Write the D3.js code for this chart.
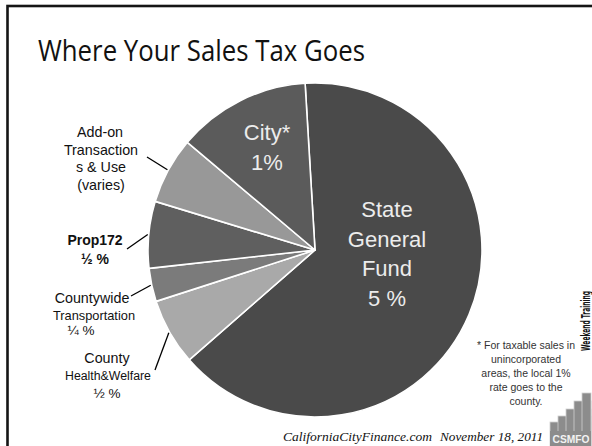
<!DOCTYPE html>
<html>
<head>
<meta charset="utf-8">
<script src="https://cdn.jsdelivr.net/npm/d3@7"></script>
<style>
  html, body { margin: 0; padding: 0; background: #fff; }
  svg { display: block; }
</style>
</head>
<body>
<svg id="chart" width="592" height="446"></svg>
<script>
// ---- Data ----
const categories = ["State General Fund", "County Health&Welfare", "Countywide Transportation", "Prop172", "Add-on Transactions & Use", "City*"];
const values = [5, 0.5, 0.25, 0.5, 0.5, 1];
const sliceColors = ["#4a4a4a", "#a9a9a9", "#7b7b7b", "#5f5f5f", "#989898", "#5b5b5b"];
const titleText = "Where Your Sales Tax Goes";
const footnoteLines = ["* For taxable sales in", "unincorporated", "areas, the local 1%", "rate goes to the", "county."];

const svg = d3.select("#chart");
const W = 592, H = 446;

// slide frame
svg.append("rect").attr("x", 7.5).attr("y", 6).attr("width", W + 20).attr("height", H + 20)
  .attr("fill", "none").attr("stroke", "#151515").attr("stroke-width", 2.6);

// title
svg.append("text").attr("x", 38).attr("y", 61)
  .attr("font-family", "Open Sans, sans-serif").attr("font-size", 29)
  .attr("textLength", 327).attr("lengthAdjust", "spacingAndGlyphs")
  .attr("fill", "#111").text(titleText);

// pie
const cx = 315, cy = 250, R = 167;
const deg = Math.PI / 180;
const start = -3.4 * deg;
const pie = d3.pie().sort(null).value(d => d).startAngle(start).endAngle(start + 2 * Math.PI);
const arcs = pie(values);
const arc = d3.arc().innerRadius(0).outerRadius(R);
const color = d3.scaleOrdinal().domain(categories).range(sliceColors);

const g = svg.append("g").attr("transform", `translate(${cx},${cy})`);
g.selectAll("path.slice").data(arcs).join("path")
  .attr("class", "slice")
  .attr("d", arc)
  .attr("fill", (d, i) => color(categories[i]))
  .attr("stroke", "#fff").attr("stroke-width", 1.6).attr("stroke-linejoin", "round");

// inside labels
const inside = [
  { idx: 0, lines: ["State", "General", "Fund", "5 %"], dx: 72, dy0: -33, step: 29.5, size: 22 },
  { idx: 5, lines: ["City*", "1%"], dx: -48, dy0: -110, step: 30, size: 22 }
];
inside.forEach(L => {
  L.lines.forEach((t, j) => {
    g.append("text").attr("x", L.dx).attr("y", L.dy0 + j * L.step)
      .attr("text-anchor", "middle")
      .attr("font-family", "Liberation Sans, Arial, sans-serif")
      .attr("font-size", L.size).attr("fill", "#ececec").text(t);
  });
});

// outside labels with leader lines
const pt = (a, r) => [Math.sin(a) * r, -Math.cos(a) * r];
const outside = [
  { idx: 4, end: [-168, -93], lines: [
      { t: "Add-on", x: 100, y: 137, s: 14.3 }, { t: "Transaction", x: 101, y: 154.5, s: 14.3 },
      { t: "s & Use", x: 101, y: 172, s: 14.3 }, { t: "(varies)", x: 101, y: 190, s: 14.3 }] },
  { idx: 3, end: [-188, -1], lines: [
      { t: "Prop172", x: 95, y: 245, s: 14, b: true }, { t: "½ %", x: 95, y: 264, s: 14, b: true }] },
  { idx: 2, end: [-184, 46], lines: [
      { t: "Countywide", x: 92, y: 303, s: 14.3 }, { t: "Transportation", x: 94, y: 320, s: 12.8 },
      { t: "¼ %", x: 81, y: 335, s: 13.5 }] },
  { idx: 1, end: [-160, 120], lines: [
      { t: "County", x: 107, y: 363, s: 14.3 }, { t: "Health&Welfare", x: 108, y: 380, s: 12.3 },
      { t: "½ %", x: 107, y: 398, s: 13.5 }] }
];
outside.forEach(L => {
  const a = (arcs[L.idx].startAngle + arcs[L.idx].endAngle) / 2;
  const p = pt(a, R + 1);
  g.append("line").attr("x1", p[0]).attr("y1", p[1]).attr("x2", L.end[0]).attr("y2", L.end[1])
    .attr("stroke", "#000").attr("stroke-width", 1.3);
  L.lines.forEach(l => {
    svg.append("text").attr("x", l.x).attr("y", l.y).attr("text-anchor", "middle")
      .attr("font-family", "Liberation Sans, Arial, sans-serif")
      .attr("font-size", l.s).attr("font-weight", l.b ? "bold" : "normal")
      .attr("fill", "#111").text(l.t);
  });
});

// footnote
footnoteLines.forEach((t, j) => {
  svg.append("text").attr("x", 526).attr("y", 349 + j * 14).attr("text-anchor", "middle")
    .attr("font-family", "Liberation Sans Narrow, Arial Narrow, sans-serif")
    .attr("font-size", 10.5).attr("fill", "#333").text(t);
});

// Weekend Training (rotated)
svg.append("text").attr("transform", "translate(590,321) rotate(-90)")
  .attr("text-anchor", "middle")
  .attr("font-family", "DejaVu Sans Condensed, DejaVu Sans, sans-serif")
  .attr("font-weight", "bold").attr("font-size", 11.5)
  .attr("textLength", 60).attr("lengthAdjust", "spacingAndGlyphs")
  .attr("fill", "#111").text("Weekend Training");

// footer
svg.append("text").attr("x", 283).attr("y", 441)
  .attr("font-family", "Liberation Serif, serif").attr("font-style", "italic").attr("font-size", 12.5)
  .attr("textLength", 149).attr("lengthAdjust", "spacingAndGlyphs")
  .attr("fill", "#111").text("CaliforniaCityFinance.com");
svg.append("text").attr("x", 440).attr("y", 441)
  .attr("font-family", "Liberation Serif, serif").attr("font-style", "italic").attr("font-size", 12.5)
  .attr("textLength", 103).attr("lengthAdjust", "spacingAndGlyphs")
  .attr("fill", "#111").text("November 18, 2011");

// CSMFO logo (stair bars)
const logoTops = [422, 416, 409, 401, 393];
const logo = svg.append("g");
logoTops.forEach((t, i) => {
  logo.append("rect").attr("x", 550 + i * 8).attr("y", t).attr("width", 41 - i * 8).attr("height", H - t + 2)
    .attr("fill", "#8c8c8c").attr("stroke", "#d0d0d0").attr("stroke-width", 0.8);
});
logo.append("rect").attr("x", 550).attr("y", 431).attr("width", 41).attr("height", 16).attr("fill", "#8c8c8c");
logo.append("text").attr("x", 571).attr("y", 443).attr("text-anchor", "middle")
  .attr("font-family", "Liberation Sans, Arial, sans-serif").attr("font-weight", "bold").attr("font-size", 10.5)
  .attr("textLength", 37).attr("lengthAdjust", "spacingAndGlyphs")
  .attr("fill", "#f2f2f2").text("CSMFO");
</script>
</body>
</html>
